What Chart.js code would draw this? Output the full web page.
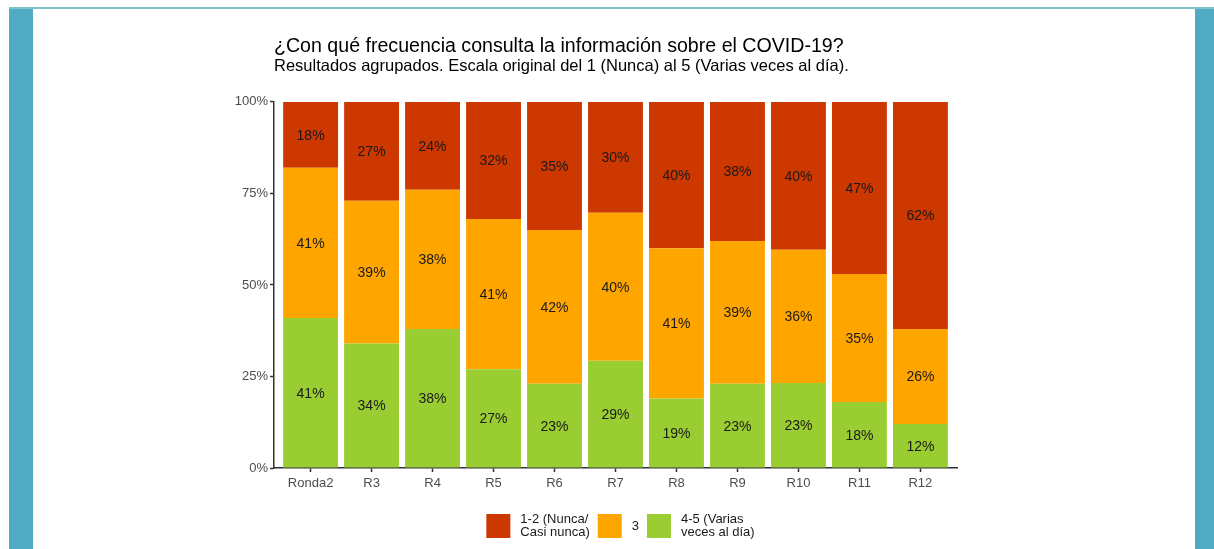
<!DOCTYPE html>
<html>
<head>
<meta charset="utf-8">
<script src="https://cdn.jsdelivr.net/npm/chart.js@4"></script>
<style>
html,body{margin:0;padding:0;background:#fff;width:1214px;height:549px;overflow:hidden;}
#wrap{position:relative;width:1214px;height:549px;background:#fff;}
.frame-top{position:absolute;left:9px;top:7px;width:1205px;height:2px;background:#7cc3cc;}
.frame-left{position:absolute;left:9px;top:9px;width:24px;height:540px;background:#51aac4;}
.frame-right{position:absolute;left:1195px;top:9px;width:19px;height:540px;background:#51aac4;}
canvas{position:absolute;left:0;top:0;}
</style>
</head>
<body>
<div id="wrap">
  <div class="frame-top"></div>
  <div class="frame-left"></div>
  <div class="frame-right"></div>
  <canvas id="c" width="1214" height="549"></canvas>
</div>
<script>
// ---- data ----
const categories = ['Ronda2','R3','R4','R5','R6','R7','R8','R9','R10','R11','R12'];
const pctNunca  = [18,27,24,32,35,30,40,38,40,47,62];   // 1-2 (Nunca/Casi nunca)
const pctTres   = [41,39,38,41,42,40,41,39,36,35,26];   // 3
const pctVarias = [41,34,38,27,23,29,19,23,23,18,12];   // 4-5 (Varias veces al día)
const seriesNames = {
  nunca: ['1-2 (Nunca/','Casi nunca)'],
  tres: ['3'],
  varias: ['4-5 (Varias','veces al día)']
};
const yTicks = [0,25,50,75,100];
const titleText = '¿Con qué frecuencia consulta la información sobre el COVID-19?';
const subtitleText = 'Resultados agrupados. Escala original del 1 (Nunca) al 5 (Varias veces al día).';

const colors = { nunca:'#cd3700', tres:'#ffa500', varias:'#9acd32' };
const FONT = '"Liberation Sans", Arial, Helvetica, sans-serif';

// bars are filled to 100% (shares of each round total)
const totals = categories.map((_, i) => pctNunca[i] + pctTres[i] + pctVarias[i]);
const toPoints = arr => arr.map((v, i) => ({ x: i, y: v / totals[i] * 100 }));

const segLabels = {
  id: 'segLabels',
  afterDatasetsDraw(chart) {
    const ctx = chart.ctx;
    ctx.save();
    ctx.font = '14px ' + FONT;
    ctx.fillStyle = '#1a1a1a';
    ctx.textAlign = 'center';
    ctx.textBaseline = 'middle';
    chart.data.datasets.forEach((ds, di) => {
      const meta = chart.getDatasetMeta(di);
      meta.data.forEach((el, i) => {
        ctx.fillText(ds.rawPct[i] + '%', el.x, (el.y + el.base) / 2 + 1);
      });
    });
    ctx.restore();
  }
};

const customLegend = {
  id: 'customLegend',
  afterDraw(chart) {
    const ctx = chart.ctx;
    const items = [
      { color: colors.nunca, lines: seriesNames.nunca },
      { color: colors.tres, lines: seriesNames.tres },
      { color: colors.varias, lines: seriesNames.varias }
    ];
    ctx.save();
    ctx.font = '13px ' + FONT;
    const box = 24, gapText = 10, gapItem = 8, lineH = 13;
    const widths = items.map(it => Math.max(...it.lines.map(l => ctx.measureText(l).width)));
    let total = 0;
    widths.forEach((w, i) => { total += box + gapText + w + (i < items.length - 1 ? gapItem : 0); });
    const ca = chart.chartArea;
    let x = (ca.left + ca.right) / 2 + 5 - total / 2;
    const cy = ca.bottom + 58;
    items.forEach((it, i) => {
      ctx.fillStyle = it.color;
      ctx.fillRect(x, cy - box / 2, box, box);
      ctx.fillStyle = '#1a1a1a';
      ctx.textAlign = 'left';
      ctx.textBaseline = 'middle';
      const n = it.lines.length;
      it.lines.forEach((l, k) => {
        ctx.fillText(l, x + box + gapText, cy + (k - (n - 1) / 2) * lineH);
      });
      x += box + gapText + widths[i] + gapItem;
    });
    ctx.restore();
  }
};

new Chart(document.getElementById('c'), {
  type: 'bar',
  data: {
    datasets: [
      { label: '4-5 (Varias veces al día)', data: toPoints(pctVarias), rawPct: pctVarias, backgroundColor: colors.varias, borderWidth: 0 },
      { label: '3', data: toPoints(pctTres), rawPct: pctTres, backgroundColor: colors.tres, borderWidth: 0 },
      { label: '1-2 (Nunca/Casi nunca)', data: toPoints(pctNunca), rawPct: pctNunca, backgroundColor: colors.nunca, borderWidth: 0 }
    ]
  },
  options: {
    responsive: false,
    animation: false,
    devicePixelRatio: 1,
    categoryPercentage: 0.9,
    barPercentage: 1,
    layout: { padding: { top: 37, right: 257, bottom: 51, left: 0 } },
    scales: {
      x: {
        type: 'linear',
        stacked: true,
        offset: false,
        min: -0.6,
        max: categories.length - 1 + 0.6,
        afterBuildTicks(s) { s.ticks = categories.map((_, i) => ({ value: i })); },
        afterFit(s) { s.height = 30; },
        ticks: {
          callback: (v) => categories[v],
          color: '#4d4d4d',
          font: { size: 13, family: FONT },
          padding: 4,
          autoSkip: false,
          maxRotation: 0
        },
        grid: { display: true, offset: false, drawOnChartArea: false, drawTicks: true, tickLength: 4, tickColor: '#333', tickWidth: 1.5 },
        border: { display: true, color: '#333', width: 1.5 }
      },
      y: {
        stacked: true,
        min: 0,
        max: 100,
        afterBuildTicks(s) { s.ticks = yTicks.map(v => ({ value: v })); },
        afterFit(s) { s.width = 274; },
        ticks: {
          callback: (v) => v + '%',
          color: '#4d4d4d',
          font: { size: 13, family: FONT },
          padding: 2
        },
        grid: { display: true, drawOnChartArea: false, drawTicks: true, tickLength: 4, tickColor: '#333', tickWidth: 1.5 },
        border: { display: true, color: '#333', width: 1.5 }
      }
    },
    plugins: {
      legend: { display: false },
      tooltip: { enabled: false },
      title: {
        display: true,
        text: titleText,
        align: 'start',
        fullSize: false,
        color: '#000',
        font: { size: 19.6, weight: 'normal', family: FONT, lineHeight: 1 },
        padding: { top: 0, bottom: 2 }
      },
      subtitle: {
        display: true,
        text: subtitleText,
        align: 'start',
        fullSize: false,
        color: '#000',
        font: { size: 16.5, weight: 'normal', family: FONT, lineHeight: 1 },
        padding: { top: 0, bottom: 26.8 }
      }
    }
  },
  plugins: [segLabels, customLegend]
});
</script>
</body>
</html>
